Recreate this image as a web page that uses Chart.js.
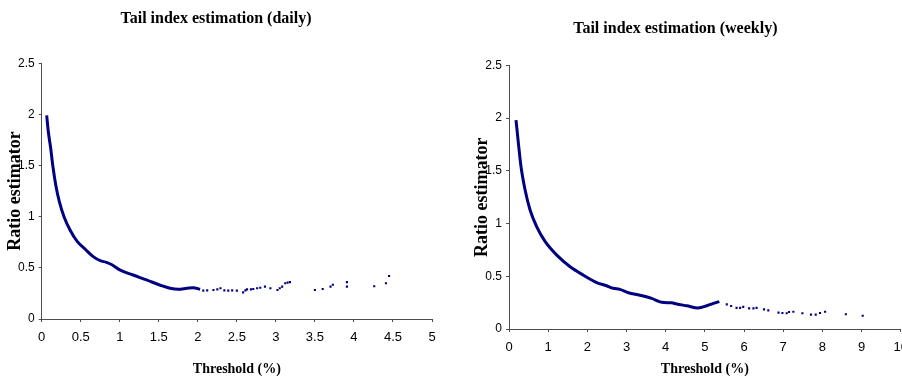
<!DOCTYPE html>
<html lang="en">
<head>
    <meta charset="UTF-8">
    <title>Tail index estimation</title>
    <script src="https://cdn.jsdelivr.net/npm/chart.js"></script>
    <style>
        body {
            margin: 0;
            background: #fff;
            width: 902px;
            height: 378px;
            overflow: hidden;
            position: relative;
        }
        .panel {
            position: absolute;
            top: 0;
            height: 378px;
        }
        #dailyBox { left: 0; width: 450px; }
        #weeklyBox { left: 450px; width: 470px; }  /* runs past the window edge, like the original */
    </style>
</head>
<body>
    <div class="panel" id="dailyBox"><canvas id="dailyChart"></canvas></div>
    <div class="panel" id="weeklyBox"><canvas id="weeklyChart"></canvas></div>

    <script>
        // daily: dense part of the curve
        const dailyCurveX = [0.064, 0.085, 0.115, 0.141, 0.18, 0.226, 0.286, 0.363, 0.457, 0.555, 0.66, 0.75, 0.83, 0.9, 1.0, 1.17, 1.35, 1.52, 1.645, 1.75, 1.86, 1.94, 2.03];
        const dailyCurveY = [1.99, 1.83, 1.67, 1.505, 1.31, 1.147, 1.0, 0.87, 0.756, 0.684, 0.61, 0.57, 0.554, 0.53, 0.48, 0.43, 0.38, 0.33, 0.30, 0.29, 0.30, 0.306, 0.29];
        // daily: scattered points further out
        const dailyTailX = [2.07, 2.12, 2.2, 2.25, 2.29, 2.34, 2.39, 2.44, 2.5, 2.58, 2.61, 2.63, 2.68, 2.71, 2.76, 2.8, 2.86, 2.93, 3.02, 3.05, 3.08, 3.12, 3.15, 3.18, 3.50, 3.60, 3.70, 3.73, 3.91, 3.91, 4.26, 4.41, 4.45];
        const dailyTailY = [0.277, 0.28, 0.283, 0.29, 0.30, 0.28, 0.277, 0.28, 0.277, 0.26, 0.28, 0.29, 0.29, 0.293, 0.30, 0.306, 0.316, 0.30, 0.283, 0.30, 0.316, 0.35, 0.355, 0.36, 0.283, 0.293, 0.316, 0.335, 0.36, 0.316, 0.32, 0.35, 0.42];

        // weekly: dense part of the curve
        const weeklyCurveX = [0.179, 0.24, 0.306, 0.41, 0.536, 0.706, 0.92, 1.22, 1.56, 1.90, 2.24, 2.49, 2.66, 2.83, 3.05, 3.34, 3.64, 3.90, 4.15, 4.28, 4.54, 4.83, 5.05, 5.22, 5.37];
        const weeklyCurveY = [1.98, 1.76, 1.54, 1.32, 1.13, 0.97, 0.83, 0.70, 0.59, 0.51, 0.44, 0.41, 0.386, 0.376, 0.344, 0.32, 0.29, 0.253, 0.248, 0.237, 0.22, 0.20, 0.22, 0.243, 0.26];
        // weekly: scattered points further out
        const weeklyTailX = [5.56, 5.67, 5.81, 5.90, 5.98, 6.13, 6.24, 6.32, 6.51, 6.62, 6.88, 6.98, 7.09, 7.15, 7.26, 7.49, 7.71, 7.83, 7.94, 8.07, 8.60, 9.03];
        const weeklyTailY = [0.234, 0.218, 0.20, 0.20, 0.21, 0.196, 0.196, 0.20, 0.186, 0.177, 0.155, 0.152, 0.149, 0.161, 0.164, 0.149, 0.136, 0.136, 0.152, 0.164, 0.14, 0.126];

        const navy = '#000080';
        const axisGrey = '#4d4d4d';
        const serif = "'Liberation Serif', 'Times New Roman', serif";
        const sans = "'Liberation Sans', Arial, sans-serif";

        function pairs(xs, ys) {
            return xs.map((x, i) => ({ x: x, y: ys[i] }));
        }

        // Excel style labels: 2 not 2.0
        function plainLabel(v) {
            return String(+v.toFixed(2));
        }

        function makeChart(id, cfg) {
            return new Chart(document.getElementById(id), {
                type: 'scatter',
                data: {
                    datasets: [
                        {
                            data: pairs(cfg.curveX, cfg.curveY),
                            showLine: true,
                            borderColor: navy,
                            borderWidth: 3,
                            cubicInterpolationMode: 'monotone',
                            pointRadius: 0
                        },
                        {
                            data: pairs(cfg.tailX, cfg.tailY),
                            backgroundColor: navy,
                            borderColor: navy,
                            pointStyle: 'rect',
                            pointRadius: 1.5,
                            borderWidth: 0
                        }
                    ]
                },
                options: {
                    responsive: true,
                    maintainAspectRatio: false,
                    animation: false,
                    layout: { padding: { left: 0, right: cfg.rightPad, top: 0, bottom: 0 } },
                    plugins: {
                        legend: { display: false },
                        tooltip: { enabled: false },
                        title: {
                            display: true,
                            text: cfg.title,
                            color: '#000',
                            font: { family: serif, size: 16, weight: 'bold' },
                            padding: { top: cfg.titleTop, bottom: cfg.titleBottom }
                        }
                    },
                    scales: {
                        x: {
                            type: 'linear',
                            min: 0,
                            max: cfg.xMax,
                            afterFit: s => { s.height = cfg.xAxisHeight; },
                            ticks: {
                                stepSize: cfg.xStep,
                                color: '#000',
                                padding: 8,
                                font: { family: sans, size: 13 },
                                callback: plainLabel
                            },
                            grid: { drawOnChartArea: false, tickLength: 3, color: axisGrey },
                            border: { color: axisGrey },
                            title: {
                                display: true,
                                text: 'Threshold (%)',
                                color: '#000',
                                font: { family: serif, size: 14, weight: 'bold' },
                                padding: { top: 2.6, bottom: 0 }
                            }
                        },
                        y: {
                            min: 0,
                            max: 2.5,
                            afterFit: s => { s.width = cfg.yAxisWidth; },
                            ticks: {
                                stepSize: 0.5,
                                color: '#000',
                                padding: 4,
                                font: { family: sans, size: 12 },
                                callback: plainLabel
                            },
                            grid: { drawOnChartArea: false, tickLength: 3, color: axisGrey },
                            border: { color: axisGrey },
                            title: {
                                display: true,
                                text: 'Ratio estimator',
                                color: '#000',
                                font: { family: serif, size: 18, weight: 'bold' },
                                padding: { top: cfg.yTitlePad, bottom: 0 }
                            }
                        }
                    }
                }
            });
        }

        makeChart('dailyChart', {
            title: 'Tail index estimation (daily)',
            curveX: dailyCurveX, curveY: dailyCurveY,
            tailX: dailyTailX, tailY: dailyTailY,
            xMax: 5, xStep: 0.5,
            rightPad: 18, titleTop: 9, titleBottom: 35,
            xAxisHeight: 59, yAxisWidth: 41.7, yTitlePad: 4.2
        });

        makeChart('weeklyChart', {
            title: 'Tail index estimation (weekly)',
            curveX: weeklyCurveX, curveY: weeklyCurveY,
            tailX: weeklyTailX, tailY: weeklyTailY,
            xMax: 10, xStep: 1,
            rightPad: 19.3, titleTop: 19.4, titleBottom: 26.7,
            xAxisHeight: 49, yAxisWidth: 59, yTitlePad: 21.6
        });
    </script>
</body>
</html>
